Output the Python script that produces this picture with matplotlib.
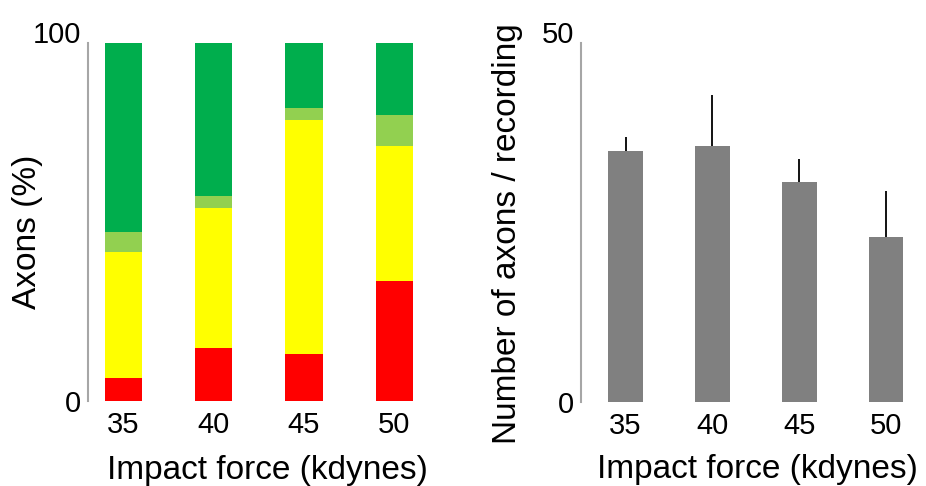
import numpy as np
import matplotlib
matplotlib.use("Agg")
import matplotlib.pyplot as plt

plt.rcParams['font.family'] = ['Liberation Sans', 'DejaVu Sans']

# Data
forces = ["35", "40", "45", "50"]
red = [6.3, 14.9, 13.0, 33.5]
yellow = [35.4, 38.9, 65.5, 37.7]
light_green = [5.4, 3.5, 3.3, 8.7]
dark_green = [52.9, 42.7, 18.2, 20.1]

axons_mean = [35.0, 35.6, 30.7, 23.0]
axons_err = [1.9, 7.2, 3.1, 6.4]

colors = {"red": "#FF0000", "yellow": "#FFFF00", "lg": "#92D050", "dg": "#00AE4D"}
axis_gray = "#A6A6A6"

fig = plt.figure(figsize=(9.26, 4.86), dpi=100)
ax1 = fig.add_axes([88 / 926, 85 / 486, 338 / 926, 358 / 486])
ax2 = fig.add_axes([581 / 926, 84 / 486, 340 / 926, 359 / 486])

x = np.arange(len(forces))

# Left: stacked percentages
bottom = np.zeros(len(forces))
for vals, c in [(red, "red"), (yellow, "yellow"), (light_green, "lg"), (dark_green, "dg")]:
    ax1.bar(x, vals, width=0.41, bottom=bottom, color=colors[c], linewidth=0)
    bottom += np.array(vals)
ax1.set_xlim(-0.39, 3.35)
ax1.set_ylim(0, 100)
ax1.set_yticks([0, 100])
ax1.set_ylabel("Axons (%)", fontsize=24)

# Right: mean axons per recording with upward error bars
ax2.bar(x, axons_mean, width=0.395, color="#808080", linewidth=0)
ax2.errorbar(x, axons_mean, yerr=[np.zeros(len(forces)), axons_err], fmt="none",
             ecolor="black", elinewidth=1.3, capsize=0)
ax2.set_xlim(-0.513, 3.4)
ax2.set_ylim(0, 50)
ax2.set_yticks([0, 50])
ax2.set_ylabel("Number of axons / recording", fontsize=24)

for ax in (ax1, ax2):
    ax.set_xticks(x)
    ax.set_xticklabels(forces)
    for s in ("top", "right", "bottom"):
        ax.spines[s].set_visible(False)
    ax.spines["left"].set_color(axis_gray)
    ax.spines["left"].set_linewidth(1.5)
    ax.tick_params(axis="both", length=0, labelsize=21)
    ax.tick_params(axis="x", pad=7)
    ax.tick_params(axis="y", pad=5)
    ax.set_xlabel("Impact force (kdynes)", fontsize=24)
    ax.xaxis.label.set_va("center")
    ax.yaxis.label.set_va("center")
    ax.get_yticklabels()[-1].set_va("baseline")

ax1.xaxis.set_label_coords(0.531, -0.193)
ax2.xaxis.set_label_coords(0.518, -0.189)
ax1.yaxis.set_label_coords(-0.178, 0.473)
ax2.yaxis.set_label_coords(-0.215, 0.468)

fig.savefig("out.png", dpi=100)
